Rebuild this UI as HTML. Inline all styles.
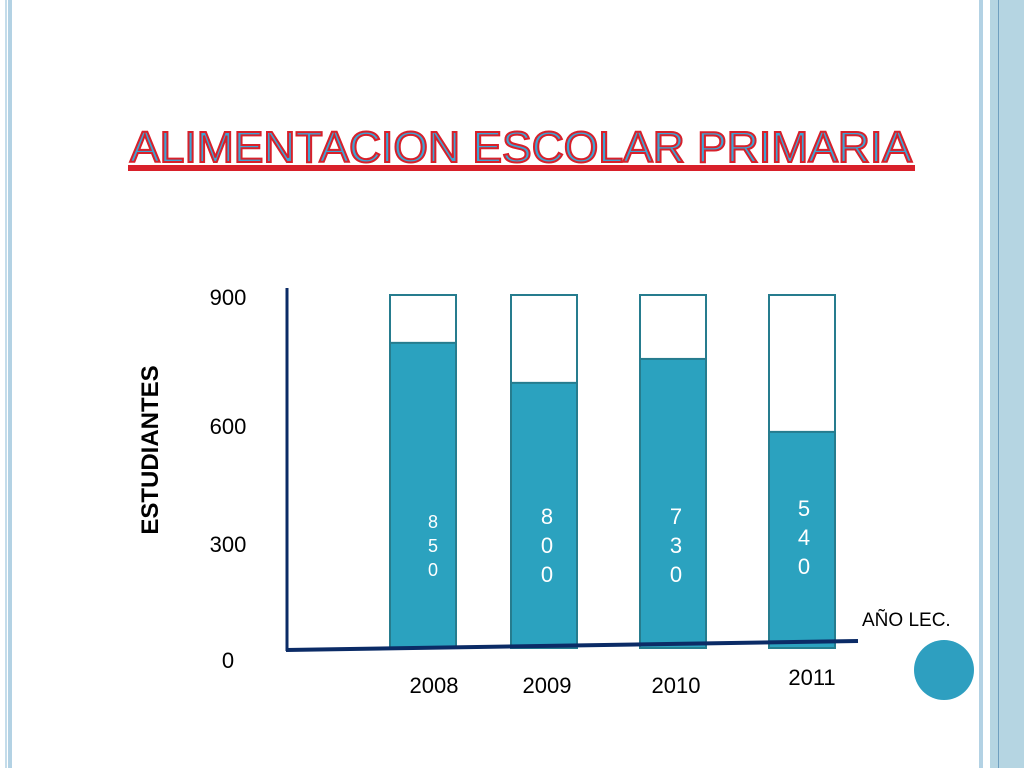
<!DOCTYPE html>
<html><head><meta charset="utf-8"><style>
html,body{margin:0;padding:0;background:#fff;width:1024px;height:768px;overflow:hidden}
svg{display:block}
</style></head><body>
<svg id="c" width="1024" height="768" xmlns="http://www.w3.org/2000/svg" font-family="Liberation Sans, sans-serif">
<rect x="5" y="0" width="2" height="768" fill="#c4dcea"/>
<rect x="8" y="0" width="4" height="768" fill="#b3d2e4"/>
<rect x="979" y="0" width="4" height="768" fill="#b3d2e4"/>
<rect x="990" y="0" width="34" height="768" fill="#b5d5e2"/>
<rect x="998" y="0" width="1" height="768" fill="#6f9fbf"/>
<g>
<rect x="128" y="165" width="787" height="6" fill="#d8202a"/>
<text x="130" y="162" font-size="44" textLength="782" lengthAdjust="spacingAndGlyphs" fill="#3da4d4" stroke="#d8202a" stroke-width="2">ALIMENTACION ESCOLAR PRIMARIA</text>
</g>
<text transform="translate(158,450) rotate(-90)" text-anchor="middle" font-size="24" font-weight="bold" fill="#000">ESTUDIANTES</text>
<text x="862" y="626" font-size="19" fill="#000">AÑO LEC.</text>
<circle cx="944" cy="670" r="30" fill="#2e9fc0"/>
<g id="marks"></g>
<line x1="287" y1="288" x2="287" y2="651" stroke="#0b2b66" stroke-width="3"/>
<line x1="286" y1="650" x2="858" y2="641" stroke="#0b2b66" stroke-width="4"/>
</svg>
<script>
const categories=["2008","2009","2010","2011"];
const barValues=[778,676,737,551];
const printedValues=["850","800","730","540"];
const yTicks=[0,300,600,900];
const maxV=900;
const y0=648,yTop=295;
function y(v){return y0-(v/maxV)*(y0-yTop);}
function yTickPos(v){return 668-(v/maxV)*363;}
const barX=[390,511,640,769];
function xb(i){return barX[i];}
const bw=66;
const svg=document.getElementById('c'),g=document.getElementById('marks'),NS="http://www.w3.org/2000/svg";
function mk(t,a){const e=document.createElementNS(NS,t);for(const k in a)e.setAttribute(k,a[k]);return e;}
yTicks.forEach((t,i)=>{
 const e=mk('text',{x:228,y:yTickPos(t)+(t===600?8:0)+(t===300?5:0),'text-anchor':'middle','font-size':'22',fill:'#000'});
 
 
 e.textContent=t;svg.appendChild(e);
});
const xLabelShift=[11,3,3,10];
const valShift=[10,3,3,2];
categories.forEach((c,i)=>{
 const x=xb(i);
 const o=mk('rect',{x:x,y:y(maxV),width:bw,height:y0-y(maxV),fill:'#fff',stroke:'#267c8e','stroke-width':2});
 
 
 g.appendChild(o);
 const b=mk('rect',{x:x,y:y(barValues[i]),width:bw,height:y0-y(barValues[i]),fill:'#2ba2bf',stroke:'#267c8e','stroke-width':2});
 
 
 g.appendChild(b);
 const lbl=printedValues[i];
 const fs=i===0?18:22, lh=i===0?24:29;
 const top=[528,524,524,516][i];
 for(let k=0;k<lbl.length;k++){
  const t=mk('text',{x:x+bw/2+valShift[i],y:top+k*lh,'text-anchor':'middle','font-size':fs,fill:'#fff'});
  
  
  t.textContent=lbl[k];g.appendChild(t);
 }
 const xl=mk('text',{x:x+bw/2+xLabelShift[i],y:i===3?685:693,'text-anchor':'middle','font-size':22,fill:'#000'});
 
 
 xl.textContent=c;svg.appendChild(xl);
});
</script>
</body></html>
